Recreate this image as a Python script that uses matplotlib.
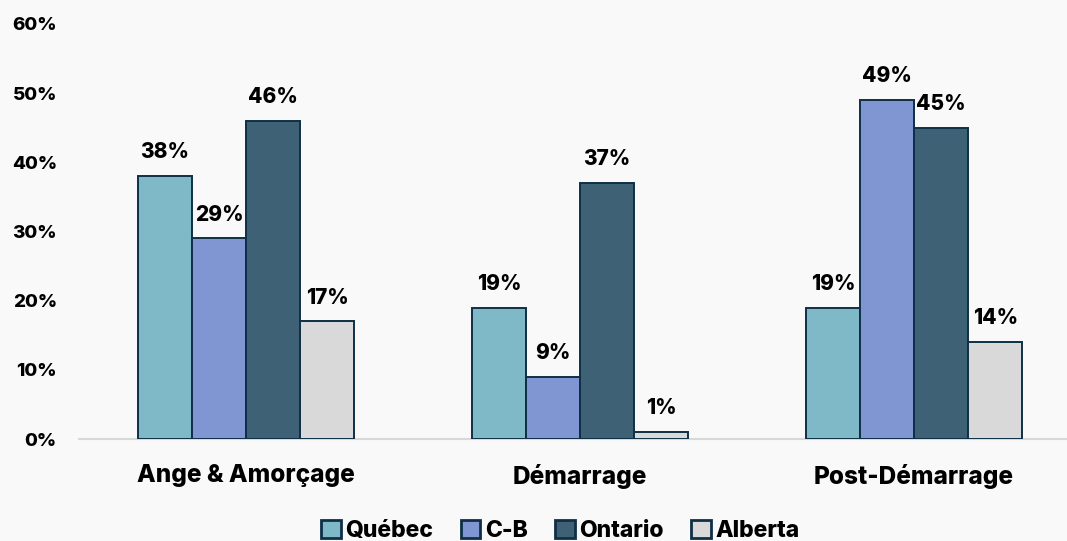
import matplotlib.pyplot as plt
import numpy as np

plt.rcParams["font.family"] = ["Inter", "DejaVu Sans"]
WEIGHT = 800

categories = ["Ange & Amorçage", "Démarrage", "Post-Démarrage"]
series = ["Québec", "C-B", "Ontario", "Alberta"]
quebec = [38, 19, 19]
cb = [29, 9, 49]
ontario = [46, 37, 45]
alberta = [17, 1, 14]
values = [quebec, cb, ontario, alberta]
colors = ["#7FB9C8", "#7F96D2", "#3F6175", "#D9D9D9"]
edge = "#0E2F45"
bg = "#F9F9F9"

fig = plt.figure(figsize=(10.67, 5.41), dpi=100, facecolor=bg)
ax = fig.add_axes([79 / 1067, 102 / 541, 988 / 1067, 415 / 541], facecolor=bg)

x = np.arange(len(categories))
w = 0.162
for i, (name, vals, col) in enumerate(zip(series, values, colors)):
    pos = x + (i - 1.5) * w
    bars = ax.bar(pos, vals, width=w, color=col, edgecolor=edge, linewidth=1.4,
                  label=name, zorder=3)
    for b, v in zip(bars, vals):
        ax.annotate(f"{v}%", (b.get_x() + b.get_width() / 2, v),
                    xytext=(0, 10), textcoords="offset points",
                    ha="center", va="bottom", fontsize=15, fontweight=WEIGHT)

ax.set_xlim(-0.5, 2.458)
ax.set_ylim(0, 60)
ax.set_yticks(range(0, 61, 10))
ax.set_yticklabels([f"{t}%" for t in range(0, 61, 10)], fontsize=13.5, fontweight=WEIGHT)
ax.set_xticks(x)
ax.set_xticklabels(categories, fontsize=17.5, fontweight=WEIGHT)
ax.tick_params(axis="y", length=0, pad=16)
ax.tick_params(axis="x", length=0, pad=18)
for s in ["top", "right", "left"]:
    ax.spines[s].set_visible(False)
ax.spines["bottom"].set_color("#D9D9D9")
ax.spines["bottom"].set_linewidth(1.5)

leg = fig.legend(loc="lower center", bbox_to_anchor=(0.525, -0.04), ncol=4,
                 frameon=False, prop={"size": 16.5, "weight": WEIGHT},
                 handlelength=0.85, handleheight=0.85, handletextpad=0.2,
                 columnspacing=1.2)
for h in leg.legend_handles:
    h.set_linewidth(2)

fig.savefig("out.png", dpi=100, facecolor=bg)
